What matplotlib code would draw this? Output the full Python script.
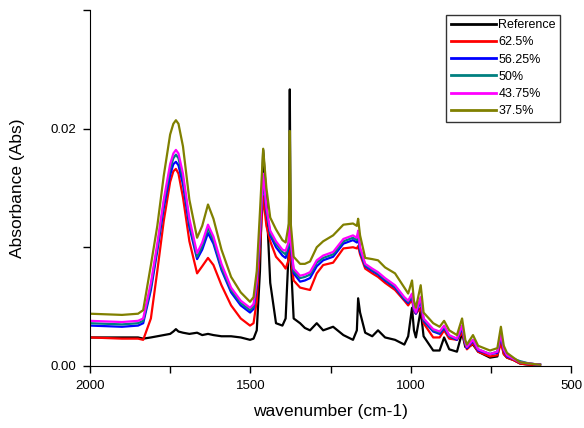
import matplotlib
matplotlib.use("Agg")
import matplotlib.pyplot as plt
from matplotlib.ticker import MultipleLocator, FormatStrFormatter

plt.rcParams["font.family"] = ["Liberation Sans", "DejaVu Sans"]

# wavenumber grid (cm-1)
wavenumber = [2000, 1900, 1850, 1834, 1810, 1790, 1770, 1750, 1740, 1732,
              1724, 1710, 1690, 1666, 1650, 1632, 1615, 1590, 1560, 1530,
              1501, 1490, 1480, 1470, 1460, 1450, 1438, 1420, 1400, 1390,
              1380, 1377, 1374, 1365, 1345, 1330, 1314, 1293, 1273, 1242,
              1210, 1180, 1168, 1164, 1158, 1142, 1120, 1102, 1080, 1049,
              1020, 1008, 996, 990, 984, 969, 960, 930, 910, 896,
              880, 856, 840, 830, 825, 806, 790, 753, 730, 719,
              710, 700, 680, 659, 630, 597]

reference = [0.0024, 0.0024, 0.0024, 0.0023, 0.0024, 0.0025, 0.0026, 0.0027, 0.0029, 0.0031,
             0.0029, 0.0028, 0.0027, 0.0028, 0.0026, 0.0027, 0.0026, 0.0025, 0.0025, 0.0024,
             0.0022, 0.0023, 0.0030, 0.0080, 0.0182, 0.0140, 0.0070, 0.0036, 0.0034, 0.0040,
             0.0100, 0.0233, 0.0090, 0.0040, 0.0036, 0.0032, 0.0030, 0.0036, 0.0030, 0.0033,
             0.0026, 0.0022, 0.0030, 0.0057, 0.0045, 0.0028, 0.0025, 0.0030, 0.0024, 0.0022,
             0.0018, 0.0025, 0.0049, 0.0030, 0.0024, 0.0047, 0.0025, 0.0013, 0.0013, 0.0024,
             0.0014, 0.0012, 0.0028, 0.0016, 0.0016, 0.0018, 0.0012, 0.0007, 0.0008, 0.0024,
             0.0010, 0.0007, 0.0005, 0.0002, 0.0001, 0.0001]

p62_5 = [0.0024, 0.0023, 0.0023, 0.0022, 0.0040, 0.0080, 0.0122, 0.0155, 0.0164, 0.0166,
         0.0162, 0.0142, 0.0105, 0.0078, 0.0084, 0.0091, 0.0085, 0.0068, 0.0051, 0.0040,
         0.0034, 0.0036, 0.0055, 0.0100, 0.0143, 0.0118, 0.0105, 0.0092, 0.0086, 0.0082,
         0.0090, 0.0120, 0.0092, 0.0072, 0.0066, 0.0065, 0.0064, 0.0078, 0.0085, 0.0087,
         0.0099, 0.0100, 0.0099, 0.0101, 0.0094, 0.0082, 0.0078, 0.0075, 0.0070, 0.0064,
         0.0055, 0.0051, 0.0056, 0.0046, 0.0044, 0.0049, 0.0036, 0.0024, 0.0024, 0.0030,
         0.0023, 0.0022, 0.0028, 0.0018, 0.0014, 0.0019, 0.0012, 0.0008, 0.0009, 0.0019,
         0.0010, 0.0007, 0.0005, 0.0002, 0.0001, 0.0001]

p56_25 = [0.0034, 0.0033, 0.0034, 0.0036, 0.0064, 0.0097, 0.0133, 0.0161, 0.0170, 0.0172,
          0.0169, 0.0153, 0.0117, 0.0090, 0.0098, 0.0112, 0.0103, 0.0081, 0.0062, 0.0051,
          0.0045, 0.0048, 0.0068, 0.0110, 0.0160, 0.0130, 0.0110, 0.0100, 0.0093, 0.0091,
          0.0100, 0.0125, 0.0100, 0.0078, 0.0071, 0.0072, 0.0074, 0.0084, 0.0089, 0.0092,
          0.0103, 0.0106, 0.0104, 0.0109, 0.0096, 0.0084, 0.0080, 0.0077, 0.0072, 0.0066,
          0.0056, 0.0053, 0.0059, 0.0047, 0.0044, 0.0055, 0.0038, 0.0029, 0.0027, 0.0032,
          0.0025, 0.0022, 0.0032, 0.0019, 0.0015, 0.0021, 0.0013, 0.0010, 0.0011, 0.0025,
          0.0013, 0.0008, 0.0006, 0.0003, 0.0002, 0.0001]

p50 = [0.0036, 0.0035, 0.0036, 0.0038, 0.0067, 0.0100, 0.0137, 0.0166, 0.0175, 0.0178,
       0.0175, 0.0158, 0.0121, 0.0092, 0.0101, 0.0116, 0.0106, 0.0083, 0.0064, 0.0053,
       0.0047, 0.0050, 0.0070, 0.0112, 0.0160, 0.0131, 0.0112, 0.0103, 0.0096, 0.0094,
       0.0102, 0.0126, 0.0102, 0.0080, 0.0074, 0.0075, 0.0077, 0.0087, 0.0091, 0.0094,
       0.0105, 0.0108, 0.0106, 0.0112, 0.0098, 0.0085, 0.0081, 0.0078, 0.0073, 0.0067,
       0.0057, 0.0054, 0.0060, 0.0048, 0.0045, 0.0057, 0.0039, 0.0030, 0.0028, 0.0033,
       0.0025, 0.0023, 0.0033, 0.0019, 0.0016, 0.0022, 0.0014, 0.0010, 0.0012, 0.0027,
       0.0014, 0.0009, 0.0006, 0.0004, 0.0002, 0.0001]

p43_75 = [0.0038, 0.0037, 0.0038, 0.0040, 0.0070, 0.0103, 0.0140, 0.0170, 0.0179, 0.0182,
          0.0179, 0.0162, 0.0124, 0.0095, 0.0104, 0.0119, 0.0109, 0.0086, 0.0066, 0.0055,
          0.0049, 0.0052, 0.0072, 0.0115, 0.0162, 0.0134, 0.0114, 0.0105, 0.0098, 0.0097,
          0.0105, 0.0128, 0.0105, 0.0082, 0.0076, 0.0077, 0.0079, 0.0089, 0.0093, 0.0096,
          0.0107, 0.0110, 0.0108, 0.0114, 0.0100, 0.0086, 0.0082, 0.0079, 0.0074, 0.0068,
          0.0058, 0.0055, 0.0061, 0.0049, 0.0045, 0.0058, 0.0040, 0.0031, 0.0029, 0.0034,
          0.0026, 0.0023, 0.0034, 0.0020, 0.0016, 0.0022, 0.0014, 0.0010, 0.0012, 0.0027,
          0.0014, 0.0009, 0.0006, 0.0003, 0.0002, 0.0001]

p37_5 = [0.0044, 0.0043, 0.0044, 0.0047, 0.0085, 0.0118, 0.0160, 0.0195, 0.0204, 0.0207,
         0.0204, 0.0185, 0.0140, 0.0108, 0.0118, 0.0136, 0.0124, 0.0098, 0.0075, 0.0062,
         0.0054, 0.0058, 0.0080, 0.0130, 0.0183, 0.0150, 0.0125, 0.0115, 0.0106, 0.0104,
         0.0120, 0.0198, 0.0120, 0.0092, 0.0086, 0.0086, 0.0088, 0.0100, 0.0105, 0.0110,
         0.0119, 0.0120, 0.0118, 0.0124, 0.0110, 0.0091, 0.0090, 0.0089, 0.0083, 0.0078,
         0.0066, 0.0061, 0.0072, 0.0055, 0.0049, 0.0068, 0.0045, 0.0036, 0.0033, 0.0038,
         0.0030, 0.0026, 0.0040, 0.0022, 0.0018, 0.0026, 0.0017, 0.0013, 0.0015, 0.0033,
         0.0017, 0.0011, 0.0007, 0.0003, 0.0002, 0.0001]

series = [
    ("Reference", reference, "black"),
    ("62.5%", p62_5, "red"),
    ("56.25%", p56_25, "blue"),
    ("50%", p50, "#008080"),
    ("43.75%", p43_75, "magenta"),
    ("37.5%", p37_5, "#808000"),
]

fig = plt.figure(figsize=(5.84, 4.28), dpi=100)
ax = fig.add_axes([0.154, 0.145, 0.824, 0.832])

for name, vals, col in series:
    ax.plot(wavenumber, vals, color=col, lw=1.6, label=name)

ax.set_xlim(2000, 500)
ax.set_ylim(0, 0.03)
ax.xaxis.set_major_locator(MultipleLocator(500))
ax.xaxis.set_minor_locator(MultipleLocator(250))
ax.yaxis.set_major_locator(MultipleLocator(0.02))
ax.yaxis.set_minor_locator(MultipleLocator(0.01))
ax.yaxis.set_major_formatter(FormatStrFormatter("%.2f"))
ax.tick_params(which="both", direction="out", length=5, width=1, labelsize=9.5, pad=5)
ax.spines["top"].set_visible(False)
ax.spines["right"].set_visible(False)

ax.set_xlabel("wavenumber (cm-1)", fontsize=12.5, labelpad=9)
ax.set_ylabel("Absorbance (Abs)", fontsize=12.5, labelpad=18)

leg = ax.legend(loc="upper right", bbox_to_anchor=(0.985, 0.997), fontsize=9,
                frameon=True, fancybox=False, edgecolor="black",
                handlelength=3.6, handletextpad=0.2, labelspacing=0.42,
                borderpad=0.35, borderaxespad=0.3)
leg.get_frame().set_linewidth(1)
for line in leg.get_lines():
    line.set_linewidth(2)

fig.savefig("out.png", dpi=100)
